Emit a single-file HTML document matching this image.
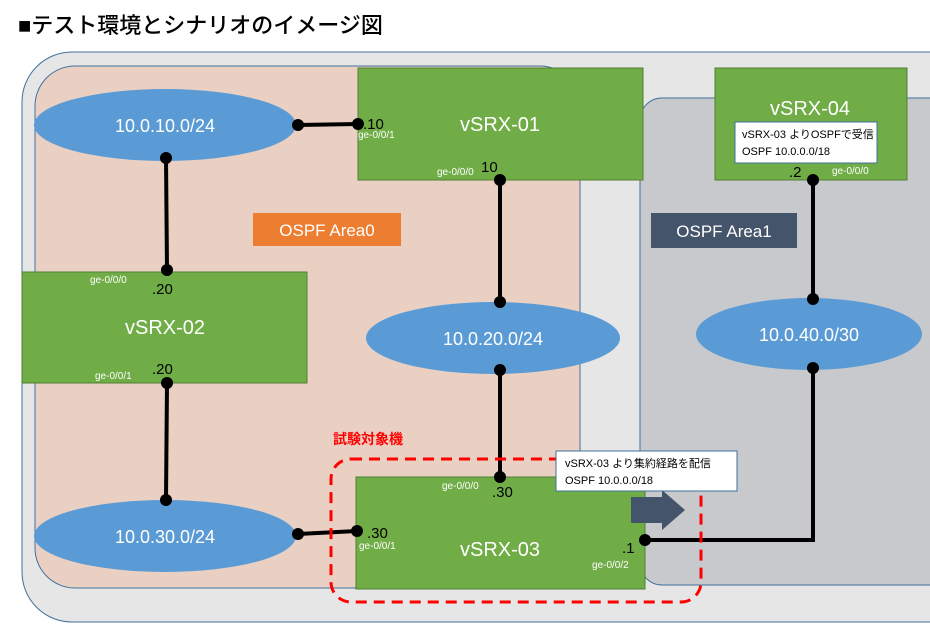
<!DOCTYPE html>
<html><head><meta charset="utf-8"><style>
html,body{margin:0;padding:0;background:#fff;width:930px;height:626px;overflow:hidden}
svg{display:block}
text{font-family:"Liberation Sans","Noto Sans CJK JP",sans-serif}
</style></head><body>
<svg width="930" height="626" viewBox="0 0 930 626" xmlns="http://www.w3.org/2000/svg">
<text x="18" y="33" font-size="22" fill="#000" font-weight="500">■テスト環境とシナリオのイメージ図</text>
<rect x="22" y="52" width="960" height="570" rx="50" fill="#e6e6e6" stroke="#41719c" stroke-width="1"/>
<rect x="35" y="66" width="545" height="522" rx="40" fill="#e9d0c3" stroke="#41719c" stroke-width="1"/>
<rect x="640" y="98" width="320" height="487" rx="22" fill="#c8c9cd" stroke="#41719c" stroke-width="1"/>

<g stroke="#000" stroke-width="4" fill="none">
<line x1="298" y1="125" x2="358" y2="124"/>
<line x1="166" y1="158" x2="167" y2="270"/>
<line x1="167" y1="383" x2="166" y2="500"/>
<line x1="298" y1="534" x2="357" y2="531"/>
<line x1="500" y1="180" x2="500" y2="302"/>
<line x1="500" y1="368" x2="500" y2="477"/>
<line x1="813" y1="180" x2="813" y2="299"/>
<polyline points="813,368 813,540 645,540"/>
</g>

<g fill="#5b9bd5">
<ellipse cx="165" cy="125" rx="131" ry="36"/>
<ellipse cx="493" cy="338" rx="127" ry="36"/>
<ellipse cx="809" cy="334" rx="113" ry="36"/>
<ellipse cx="165" cy="536" rx="131" ry="36"/>
</g>
<g fill="#fff" font-size="18" text-anchor="middle">
<text x="165" y="132">10.0.10.0/24</text>
<text x="493" y="345">10.0.20.0/24</text>
<text x="809" y="341">10.0.40.0/30</text>
<text x="165" y="543">10.0.30.0/24</text>
</g>

<g fill="#70ad47" stroke="#507e32" stroke-width="1">
<rect x="358" y="68" width="285" height="112"/>
<rect x="715" y="68" width="192" height="112"/>
<rect x="22" y="272" width="285" height="111"/>
<rect x="356" y="477" width="289" height="112"/>
</g>
<g fill="#fff" font-size="20" text-anchor="middle">
<text x="500" y="131">vSRX-01</text>
<text x="810" y="115">vSRX-04</text>
<text x="165" y="334">vSRX-02</text>
<text x="500" y="556">vSRX-03</text>
</g>

<rect x="735" y="122" width="142" height="41" fill="#fff" stroke="#41719c" stroke-width="1"/>
<text x="742" y="138" font-size="11" fill="#000">vSRX-03 よりOSPFで受信</text>
<text x="742" y="155" font-size="11" fill="#000">OSPF 10.0.0.0/18</text>

<rect x="253" y="213" width="148" height="33" fill="#ed7d31"/>
<text x="327" y="236" font-size="17" fill="#fff" text-anchor="middle">OSPF  Area0</text>
<rect x="651" y="213" width="146" height="35" fill="#44546a"/>
<text x="724" y="237" font-size="17" fill="#fff" text-anchor="middle">OSPF  Area1</text>

<text x="333" y="444" font-size="14" font-weight="bold" fill="#ff0000">試験対象機</text>
<rect x="331" y="459" width="370" height="143" rx="20" fill="none" stroke="#ff0000" stroke-width="3" stroke-dasharray="11,7"/>

<polygon points="631,497 662,497 662,490 685,510 662,530 662,523 631,523" fill="#44546a"/>
<rect x="556" y="451" width="181" height="40" fill="#fff" stroke="#41719c" stroke-width="1"/>
<text x="565" y="467" font-size="11" fill="#000">vSRX-03 より集約経路を配信</text>
<text x="565" y="484" font-size="11" fill="#000">OSPF 10.0.0.0/18</text>

<g fill="#000">
<circle cx="298" cy="125" r="6"/><circle cx="358" cy="124" r="6"/>
<circle cx="166" cy="158" r="6"/><circle cx="167" cy="270" r="6"/>
<circle cx="167" cy="383" r="6"/><circle cx="166" cy="500" r="6"/>
<circle cx="298" cy="534" r="6"/><circle cx="357" cy="531" r="6"/>
<circle cx="500" cy="180" r="6"/><circle cx="500" cy="302" r="6"/>
<circle cx="500" cy="370" r="6"/><circle cx="500" cy="477" r="6"/>
<circle cx="813" cy="180" r="6"/><circle cx="813" cy="299" r="6"/>
<circle cx="813" cy="368" r="6"/><circle cx="645" cy="540" r="6"/>
</g>

<g font-size="15" fill="#000">
<text x="363" y="129">.10</text>
<text x="481" y="172">10</text>
<text x="152" y="294">.20</text>
<text x="152" y="374">.20</text>
<text x="492" y="497">.30</text>
<text x="367" y="538">.30</text>
<text x="622" y="553">.1</text>
<text x="789" y="177">.2</text>
</g>
<g font-size="10" fill="#fff">
<text x="358" y="138">ge-0/0/1</text>
<text x="437" y="175">ge-0/0/0</text>
<text x="90" y="283">ge-0/0/0</text>
<text x="95" y="379">ge-0/0/1</text>
<text x="442" y="489">ge-0/0/0</text>
<text x="359" y="549">ge-0/0/1</text>
<text x="592" y="568">ge-0/0/2</text>
<text x="832" y="174">ge-0/0/0</text>
</g>
</svg>
</body></html>
